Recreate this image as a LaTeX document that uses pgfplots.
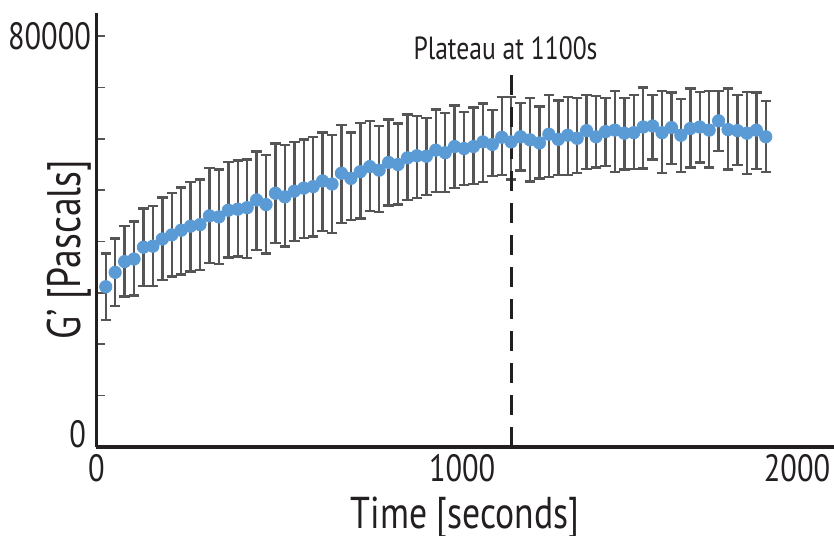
\documentclass[border=0pt]{standalone}
\usepackage{fontspec}
\setmainfont{PT Sans}[FakeStretch=0.8]
\usepackage{pgfplots}
\usepackage{pgfplotstable}
\pgfplotsset{compat=1.18}

\definecolor{dotblue}{RGB}{90,155,213}
\definecolor{bargray}{RGB}{85,85,85}
\definecolor{axisblack}{RGB}{35,31,32}

% time [s], G' [Pa], error plus, error minus
\pgfplotstableread{
t g ep em
25 31200 6500 6500
50 34000 6600 6500
75 36100 6900 6800
100 36600 7300 7100
125 38900 7500 7500
150 39100 7800 7700
175 40500 8100 8000
200 41300 8200 8100
225 42200 8300 8600
250 43000 8600 8800
275 43300 8800 8800
300 45000 9300 9200
325 44800 9200 9200
350 46100 9400 9200
375 46300 9500 9200
400 46600 9400 9800
425 48100 9400 9700
450 47200 9600 9500
475 49400 9700 9700
500 48700 10100 9700
525 49800 9600 9700
550 50400 9500 9700
575 50700 9700 9700
600 51800 9400 9700
625 51200 9500 9500
650 53300 9400 9700
675 52300 8900 8100
700 53600 9500 9100
725 54600 8900 8600
750 53900 8600 8200
775 55400 8400 8400
800 55000 8000 7800
825 56300 8400 8200
850 56700 7800 8200
875 56600 7500 7500
900 57800 7900 8200
925 57300 7700 7600
950 58500 8000 8100
975 58100 7100 7100
1000 58500 7600 7300
1025 59400 7500 7800
1050 58900 6700 6100
1075 60300 7800 7400
1100 59400 8800 7300
1125 60400 6600 6600
1150 59800 8100 8100
1175 59200 7100 6900
1200 60900 7600 8300
1225 59900 7600 6900
1250 60700 7500 7800
1275 60100 7800 6800
1300 61600 6900 7500
1325 60400 7900 6000
1350 61400 6500 6700
1375 61700 7600 8100
1400 61100 6800 7100
1425 61200 7300 7100
1450 62300 7700 8100
1475 62500 6000 6500
1500 61200 8100 7900
1525 62200 6800 7100
1550 60700 7100 7100
1575 62000 7800 7600
1600 62300 6800 6900
1625 61700 7600 7300
1650 63500 5800 5900
1675 61800 8000 7800
1700 61600 6900 6700
1725 61100 8000 7900
1750 61700 7300 7600
1775 60400 7000 6800
}\gdata

\begin{document}
\begin{tikzpicture}
\useasboundingbox (-48.15pt,-44pt) rectangle (368.85pt,223.5pt);
\begin{axis}[
  at={(0pt,0pt)}, anchor=origin,
  scale only axis,
  width=368.85pt, height=217pt,
  xmin=0, xmax=1956,
  ymin=0, ymax=84500,
  clip=false,
  axis lines=left,
  axis line style={-, line width=1.6pt, color=axisblack},
  xtick={0,970,1858},
  xticklabels={0,1000,2000},
  xtick style={draw=none},
  ytick={10000,20000,...,80000},
  yticklabels={,,,,,,,80000},
  extra y ticks={0},
  extra y tick labels={0},
  extra y tick style={yticklabel style={yshift=6.5pt, xshift=-2.5pt}, ytick style={draw=none}},
  ytick style={color=bargray, line width=0.8pt},
  tick align=inside,
  major tick length=4.5pt,
  scaled y ticks=false,
  /pgf/number format/assume math mode=true,
  tick label style={font=\fontsize{19}{21}\selectfont, color=axisblack},
  yticklabel style={inner xsep=1.5pt, xshift=-1pt},
  xlabel={Time [seconds]},
  label style={color=axisblack},
  xlabel style={font=\fontsize{22.3}{25}\selectfont, at={(axis description cs:0.5,-0.115)}, anchor=north, inner sep=0pt},
]
\addplot[
  only marks,
  mark=*,
  mark size=3.1pt,
  mark options={draw=dotblue, fill=dotblue},
  error bars/.cd,
    y dir=both, y explicit,
    error bar style={line width=1.2pt, color=bargray},
    error mark options={line width=1.2pt, color=bargray, mark size=2.6pt, rotate=90},
] table[x=t, y=g, y error plus=ep, y error minus=em] {\gdata};

\addplot[line width=1.5pt, color=axisblack, dash pattern=on 10pt off 6pt]
  coordinates {(1100,0) (1100,73400)};

\node[font=\fontsize{16}{18}\selectfont, color=axisblack] at (axis cs:1085,77700) {Plateau at 1100s};
\end{axis}
% y label, placed beside the axis (axis origin is at (0,0))
\node[rotate=90, anchor=center, inner sep=0pt, color=axisblack,
      font=\fontsize{23.5}{26}\selectfont] at (-13.6pt,98.5pt) {G’ [Pascals]};
\end{tikzpicture}
\end{document}
